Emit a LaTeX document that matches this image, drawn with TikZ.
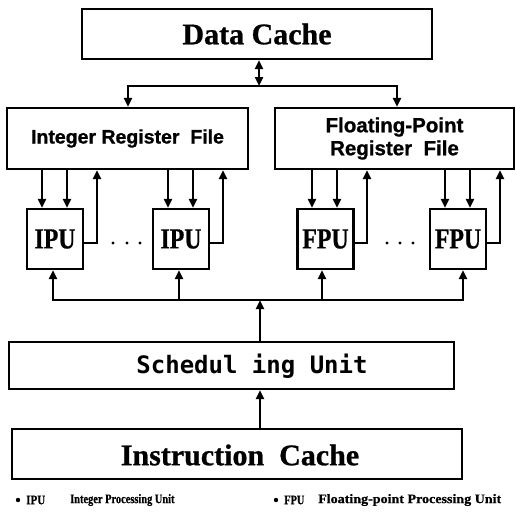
\documentclass[tikz,border=0pt]{standalone}
\usepackage{fontspec}
\setmainfont{Liberation Serif}
\newfontfamily\sansheavy{Liberation Sans Bold}[FakeBold=1]
\newfontfamily\serifheavy{Liberation Serif Bold}[FakeBold=0.8]
\newfontfamily\monob{DejaVu Sans Mono}
\usetikzlibrary{arrows.meta}

\begin{document}
\begin{tikzpicture}[x=1pt,y=-1pt,
  box/.style={draw, line width=2.2pt, inner sep=0pt, anchor=center},
  unitbox/.style={box, minimum width=56pt, minimum height=60pt,
    font=\serifheavy\fontsize{29}{30}\selectfont},
  wire/.style={line width=2.5pt, line cap=rect},
  arr/.style={line width=2.5pt, -{Triangle[length=9pt,width=8pt]}},
  darr/.style={line width=2.5pt, {Triangle[length=9pt,width=8pt]}-{Triangle[length=9pt,width=8pt]}},
  legend/.style={anchor=west, inner sep=0pt, font=\serifheavy\fontsize{13}{14}\selectfont}]

\useasboundingbox (0,0) rectangle (516,515);

% ---- blocks ----
\node[box, minimum width=350pt, minimum height=50pt,
      font=\serifheavy\fontsize{30}{33}\selectfont] (dc) at (257,34) {Data Cache};

\node[box, minimum width=241pt, minimum height=61pt,
      font=\sansheavy\fontsize{19.5}{22}\selectfont] (irf) at (127.5,138.5) {Integer Register\ \ File};
\node[box, minimum width=239pt, minimum height=61pt, align=center,
      font=\sansheavy\fontsize{20.5}{23}\selectfont] (frf) at (394.5,138.5) {Floating-Point\\Register\ \ File};

\node[unitbox] (ipu1) at (55,239)  {\scalebox{0.82}[1]{IPU}};
\node[unitbox] (ipu2) at (181,239) {\scalebox{0.82}[1]{IPU}};
\node[unitbox] (fpu1) at (325.5,239) {\scalebox{0.82}[1]{FPU}};
\node[unitbox] (fpu2) at (458,239) {\scalebox{0.82}[1]{FPU}};

\node[box, minimum width=445pt, minimum height=47pt] (sch) at (231.5,365.5) {};
\node[inner sep=0pt, font=\monob\fontsize{24}{26}\selectfont\bfseries] (scht) at (252,366) {Schedul ing Unit};
\node[box, minimum width=450pt, minimum height=50pt] (ic) at (237,454) {};
\node[inner sep=0pt, font=\serifheavy\fontsize{30}{32}\selectfont] (ict) at (240,455) {Instruction\ \ Cache};

% ---- helper coordinates ----
\coordinate (j)  at (259,86);
\coordinate (sl) at (128,86);
\coordinate (sr) at (397,86);

\coordinate (d1) at (42,0);  \coordinate (d2) at (67,0);
\coordinate (d3) at (168,0); \coordinate (d4) at (193,0);
\coordinate (d5) at (312,0); \coordinate (d6) at (337,0);
\coordinate (d7) at (445,0); \coordinate (d8) at (470,0);

\coordinate (r1) at (97,243);  \coordinate (r2) at (223,243);
\coordinate (r3) at (367,243); \coordinate (r4) at (500,243);

\coordinate (b1) at (53,300);  \coordinate (b2) at (179,300);
\coordinate (b3) at (322,300); \coordinate (b4) at (463,300);
\coordinate (bc) at (260,300);

% ---- data cache to register files ----
\draw[darr] (dc.south -| j) -- (j);
\draw[wire] (sl) -- (sr);
\draw[arr] (sl) -- (irf.north -| sl);
\draw[arr] (sr) -- (frf.north -| sr);

% ---- register files to units ----
\draw[arr] (irf.south -| d1) -- (ipu1.north -| d1);
\draw[arr] (irf.south -| d2) -- (ipu1.north -| d2);
\draw[arr] (irf.south -| d3) -- (ipu2.north -| d3);
\draw[arr] (irf.south -| d4) -- (ipu2.north -| d4);
\draw[arr] (frf.south -| d5) -- (fpu1.north -| d5);
\draw[arr] (frf.south -| d6) -- (fpu1.north -| d6);
\draw[arr] (frf.south -| d7) -- (fpu2.north -| d7);
\draw[arr] (frf.south -| d8) -- (fpu2.north -| d8);

% ---- results back to register files ----
\draw[arr] (ipu1.east |- r1) -- (r1) -- (irf.south -| r1);
\draw[arr] (ipu2.east |- r2) -- (r2) -- (irf.south -| r2);
\draw[arr] (fpu1.east |- r3) -- (r3) -- (frf.south -| r3);
\draw[arr] (fpu2.east |- r4) -- (r4) -- (frf.south -| r4);

% ---- ellipsis between units ----
\foreach \x in {113,127,140,387,400,413} \fill (\x,243) circle (1.7pt);

% ---- issue bus ----
\draw[wire] (b1) -- (b4);
\draw[arr] (b1) -- (ipu1.south -| b1);
\draw[arr] (b2) -- (ipu2.south -| b2);
\draw[arr] (b3) -- (fpu1.south -| b3);
\draw[arr] (b4) -- (fpu2.south -| b4);
\draw[arr] (sch.north -| bc) -- (bc);
\draw[arr] (ic.north -| bc) -- (sch.south -| bc);

% ---- legend ----
\fill (18,500) circle (2.2pt);
\node[legend] (lk1) at (26,500) {\scalebox{0.85}[1]{IPU}};
\node[legend] (lt1) at (70,500) {\scalebox{0.8}[1]{Integer Processing Unit}};
\fill (276,500) circle (2.2pt);
\node[legend] (lk2) at (284,500) {\scalebox{0.8}[1]{FPU}};
\node[legend] (lt2) at (318,500) {\scalebox{1.08}[1]{Floating-point Processing Unit}};
\end{tikzpicture}
\end{document}
